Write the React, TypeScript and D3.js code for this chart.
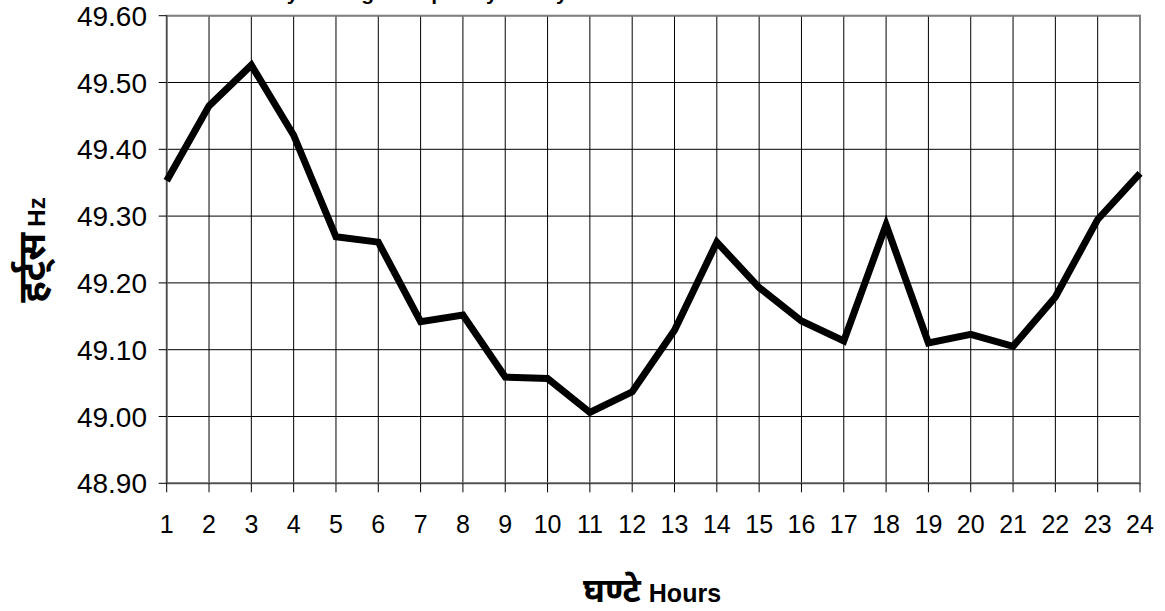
import React, { useEffect } from 'react';
import * as d3 from 'd3';

// hourly values
const hours = ['1', '2', '3', '4', '5', '6', '7', '8', '9', '10', '11', '12', '13', '14', '15', '16', '17', '18', '19', '20', '21', '22', '23', '24'];
const frequency = [49.353, 49.465, 49.526, 49.421, 49.269, 49.261, 49.142, 49.152, 49.059, 49.057, 49.006, 49.037, 49.129, 49.261, 49.193, 49.143, 49.113, 49.287, 49.110, 49.123, 49.105, 49.179, 49.295, 49.364];
const yTicks = [48.9, 49.0, 49.1, 49.2, 49.3, 49.4, 49.5, 49.6];

const W = 1165;
const H = 611;
const margin = { top: 15.7, right: 25, bottom: 127.7, left: 166.7 };
const font = '"Liberation Sans", Arial, sans-serif';
const hindiFont = '"Noto Sans Devanagari", "Lohit Devanagari", Mangal, sans-serif';

const App = () => {
  useEffect(() => {
    document.body.style.margin = '0';
  }, []);

  const x = d3.scalePoint<string>().domain(hours).range([margin.left, W - margin.right]);
  const y = d3.scaleLinear().domain([48.9, 49.6]).range([H - margin.bottom, margin.top]);

  const line = d3.line<number>()
    .x((d, i) => x(hours[i]) as number)
    .y(d => y(d));

  const x0 = margin.left;
  const x1 = W - margin.right;
  const y0 = H - margin.bottom;
  const y1 = margin.top;

  return (
    <svg width={W} height={H} style={{ display: 'block', background: '#fff' }}>
      {/* title sits mostly above the visible area, as in the source image */}
      <text x={232} y={-0.5} fontFamily={font} fontWeight="bold" fontSize={21}>
        Hourly Average Frequency of Day
      </text>

      {/* gridlines */}
      {yTicks.map(t => (
        <line key={'gy' + t} x1={x0} x2={x1} y1={y(t)} y2={y(t)} stroke="#000" strokeWidth={1} />
      ))}
      {hours.map(h => (
        <line key={'gx' + h} x1={x(h)} x2={x(h)} y1={y1} y2={y0} stroke="#000" strokeWidth={1} />
      ))}

      {/* plot frame */}
      <rect x={x0} y={y1} width={x1 - x0} height={y0 - y1} fill="none" stroke="#808080" strokeWidth={2} />
      <line x1={x0} x2={x0} y1={y1} y2={y0} stroke="#404040" strokeWidth={1} />
      <line x1={x0} x2={x1} y1={y0} y2={y0} stroke="#404040" strokeWidth={1} />

      {/* y ticks and labels */}
      {yTicks.map(t => (
        <g key={'ty' + t}>
          <line x1={x0 - 8} x2={x0} y1={y(t)} y2={y(t)} stroke="#000" strokeWidth={1} />
          <text x={147} y={y(t)} dy="0.36em" textAnchor="end" fontFamily={font} fontSize={28}>
            {t.toFixed(2)}
          </text>
        </g>
      ))}

      {/* x ticks and labels */}
      {hours.map(h => (
        <g key={'tx' + h}>
          <line x1={x(h)} x2={x(h)} y1={y0} y2={y0 + 9} stroke="#000" strokeWidth={1} />
          <text x={x(h)} y={533} textAnchor="middle" fontFamily={font} fontSize={25}>
            {h}
          </text>
        </g>
      ))}

      <path d={line(frequency) || ''} fill="none" stroke="#000" strokeWidth={7} strokeLinejoin="miter" />

      {/* axis titles */}
      <text x={652} y={602} textAnchor="middle">
        <tspan fontFamily={hindiFont} fontSize={34} fontWeight="bold">घण्टे</tspan>
        <tspan fontFamily={font} fontSize={25} fontWeight="bold" dx={8}>Hours</tspan>
      </text>
      <text transform="translate(45,250) rotate(-90)" textAnchor="middle">
        <tspan fontFamily={hindiFont} fontSize={38} fontWeight="bold">हर्ट्स</tspan>
        <tspan fontFamily={font} fontSize={24} fontWeight="bold" dx={6}>Hz</tspan>
      </text>
    </svg>
  );
};

export default App;
